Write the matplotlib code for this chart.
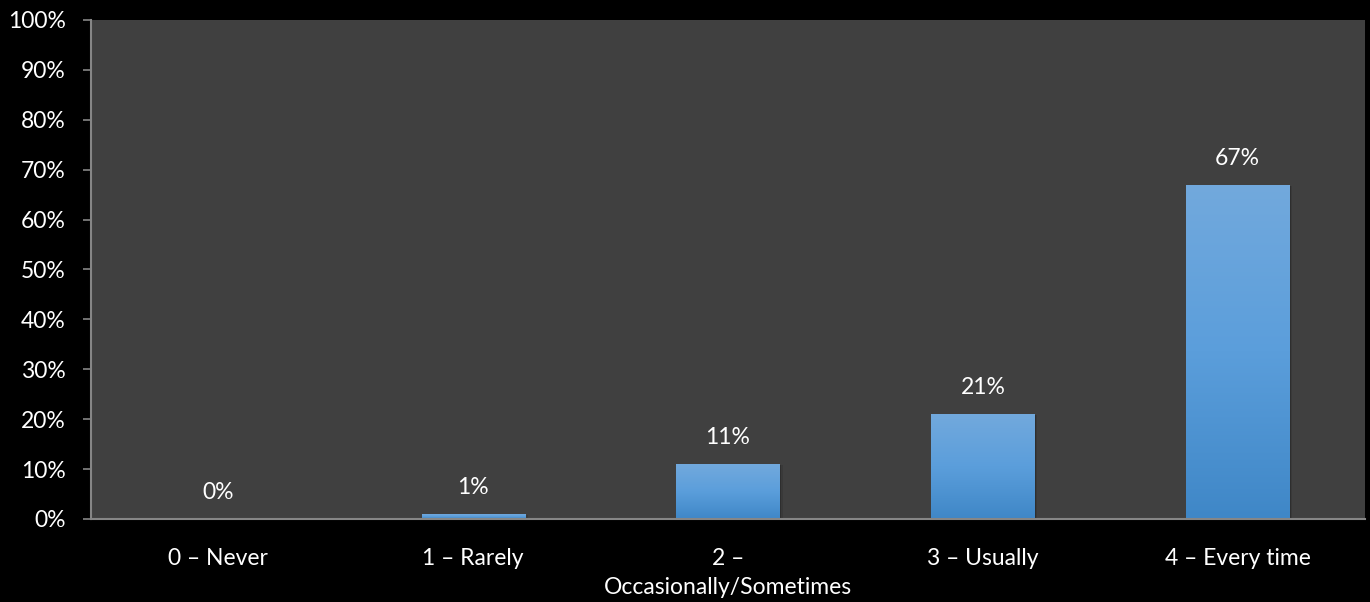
import numpy as np
import matplotlib
matplotlib.use("Agg")
import matplotlib.pyplot as plt
from matplotlib.colors import LinearSegmentedColormap
from matplotlib.patches import Rectangle

categories = ["0 \u2013 Never", "1 \u2013 Rarely", "2 \u2013\nOccasionally/Sometimes",
              "3 \u2013 Usually", "4 \u2013 Every time"]
values = [0, 1, 11, 21, 67]
yticks = [0, 10, 20, 30, 40, 50, 60, 70, 80, 90, 100]

plt.rcParams['font.family'] = ['Lato', 'DejaVu Sans']

fig = plt.figure(figsize=(13.7, 6.02), dpi=100, facecolor='black')
ax = fig.add_axes([0.0664, 0.138, 0.93, 0.8288])
ax.set_facecolor('#404040')

x = np.arange(len(categories))
width = 0.405
bars = ax.bar(x, values, width=width, color='#5a9bd8', zorder=3)

# blue vertical gradient + soft shadow on each bar
cmap = LinearSegmentedColormap.from_list('blu', ['#3f87c7', '#5b9edb', '#72a9dd'])
grad = np.linspace(0, 1, 256).reshape(-1, 1)
for b in bars:
    h = b.get_height()
    if h <= 0:
        continue
    x0 = b.get_x()
    for off, a in [(0.006, 0.18), (0.012, 0.1)]:
        sh = Rectangle((x0 + off, 0), width, h - 0.2, color='black', alpha=a,
                       zorder=2, linewidth=0)
        ax.add_patch(sh)
    im = ax.imshow(grad, extent=[x0, x0 + width, 0, h], origin='lower', cmap=cmap,
                   aspect='auto', zorder=4)
    im.set_clip_path(b)

for xi, v in zip(x, values):
    ax.annotate(f"{v}%", (xi, v), xytext=(0, 19), textcoords='offset points',
                ha='center', va='center', color='white', fontsize=16.5, zorder=5)

ax.set_xlim(-0.5, len(categories) - 0.5)
ax.set_ylim(0, 100)
ax.set_yticks(yticks)
ax.set_yticklabels([f"{t}%" for t in yticks])
ax.set_xticks(x)
ax.set_xticklabels(categories)

ax.tick_params(axis='y', colors='#868686', labelcolor='white', labelsize=16.5,
               length=6, width=1.2, pad=12)
ax.tick_params(axis='x', length=0, labelcolor='white', labelsize=16.5, pad=21)
for lbl in ax.get_xticklabels():
    lbl.set_linespacing(1.45)

for side in ['top', 'right']:
    ax.spines[side].set_visible(False)
for side in ['left', 'bottom']:
    ax.spines[side].set_color('#868686')
    ax.spines[side].set_linewidth(1.5)
    ax.spines[side].set_zorder(6)

fig.savefig('out.png', dpi=100, facecolor='black')
